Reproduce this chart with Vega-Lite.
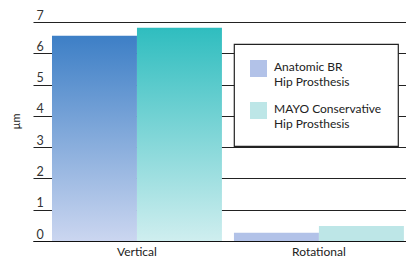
{
  "$schema": "https://vega.github.io/schema/vega-lite/v6.json",
  "width": 373,
  "height": 219,
  "autosize": {"type": "none"},
  "padding": {"left": 33, "top": 22, "right": 0, "bottom": 19},
  "background": "white",
  "config": {
    "font": "Lato",
    "view": {"stroke": null}
  },
  "data": {
    "values": [
      {"motion": "Vertical", "implant": "Anatomic BR", "value": 6.56},
      {"motion": "Vertical", "implant": "MAYO Conservative", "value": 6.82},
      {"motion": "Rotational", "implant": "Anatomic BR", "value": 0.26},
      {"motion": "Rotational", "implant": "MAYO Conservative", "value": 0.48}
    ]
  },
  "encoding": {
    "x": {
      "field": "motion",
      "type": "nominal",
      "sort": ["Vertical", "Rotational"],
      "scale": {"domain": ["Vertical", "Rotational"], "paddingInner": 0.066, "paddingOuter": 0.058, "align": 0.9},
      "axis": {"title": null, "labelAngle": 0, "labelFontSize": 12, "labelColor": "#222", "labelPadding": 5, "ticks": false, "domainColor": "#111", "domainWidth": 1.2}
    },
    "xOffset": {
      "field": "implant",
      "type": "nominal",
      "scale": {"domain": ["Anatomic BR", "MAYO Conservative"], "paddingInner": 0, "paddingOuter": 0}
    },
    "y": {
      "field": "value",
      "type": "quantitative",
      "scale": {"domain": [0, 7], "nice": false},
      "axis": {
        "title": "µm",
        "titleFontWeight": "normal",
        "titleFontSize": 11,
        "titleColor": "#222",
        "titleX": -17,
        "titleY": 99,
        "titleAlign": "center",
        "titleBaseline": "middle",
        "values": [0, 1, 2, 3, 4, 5, 6, 7],
        "grid": true,
        "gridColor": "#222",
        "gridWidth": 1.2,
        "gridOpacity": 1,
        "domain": false,
        "ticks": false,
        "labelAlign": "left",
        "labelBaseline": "alphabetic",
        "labelPadding": -3,
        "labelOffset": -3,
        "labelFontSize": 12.5,
        "labelColor": "#333"
      }
    }
  },
  "layer": [
    {
      "transform": [{"filter": "datum.motion == 'Vertical' && datum.implant == 'Anatomic BR'"}],
      "mark": {
        "type": "bar",
        "fill": {"gradient": "linear", "x1": 0, "y1": 0, "x2": 0, "y2": 1,
          "stops": [{"offset": 0, "color": "#3d7fc6"}, {"offset": 1, "color": "#cbd6f0"}]}
      }
    },
    {
      "transform": [{"filter": "datum.motion == 'Vertical' && datum.implant == 'MAYO Conservative'"}],
      "mark": {
        "type": "bar",
        "fill": {"gradient": "linear", "x1": 0, "y1": 0, "x2": 0, "y2": 1,
          "stops": [{"offset": 0, "color": "#2fbdbf"}, {"offset": 1, "color": "#cfeeef"}]}
      }
    },
    {
      "transform": [{"filter": "datum.motion == 'Rotational'"}],
      "mark": {"type": "bar"},
      "encoding": {
        "color": {
          "field": "implant",
          "type": "nominal",
          "scale": {"domain": ["Anatomic BR", "MAYO Conservative"], "range": ["#b2c2e8", "#bde6e7"]},
          "legend": {
            "title": null,
            "orient": "none",
            "legendX": 201,
            "legendY": 22,
            "fillColor": "white",
            "strokeColor": "#222",
            "padding": 16,
            "symbolType": "square",
            "symbolSize": 289,
            "symbolStrokeWidth": 0,
            "symbolOpacity": 1,
            "labelFontSize": 12,
            "labelColor": "#222",
            "labelOffset": 7,
            "labelBaseline": "top",
            "labelLimit": 200,
            "rowPadding": 14,
            "labelExpr": "datum.label == 'Anatomic BR' ? ['Anatomic BR', 'Hip Prosthesis'] : ['MAYO Conservative', 'Hip Prosthesis']",
            "encode": {
              "legend": {"update": {"strokeWidth": {"value": 1.2}}},
              "symbols": {"update": {"fill": [
                {"test": "datum.value == 'Anatomic BR'", "value": {"gradient": "linear", "x1": 0, "y1": 0, "x2": 0, "y2": 1, "stops": [{"offset": 0, "color": "#8aa4dc"}, {"offset": 1, "color": "#b3c4ea"}]}},
                {"value": {"gradient": "linear", "x1": 0, "y1": 0, "x2": 0, "y2": 1, "stops": [{"offset": 0, "color": "#7fd0d1"}, {"offset": 1, "color": "#b9e6e8"}]}}
              ]}},
              "labels": {"update": {"dy": {"value": -7}, "lineHeight": {"value": 15}}}
            }
          }
        }
      }
    }
  ]
}
